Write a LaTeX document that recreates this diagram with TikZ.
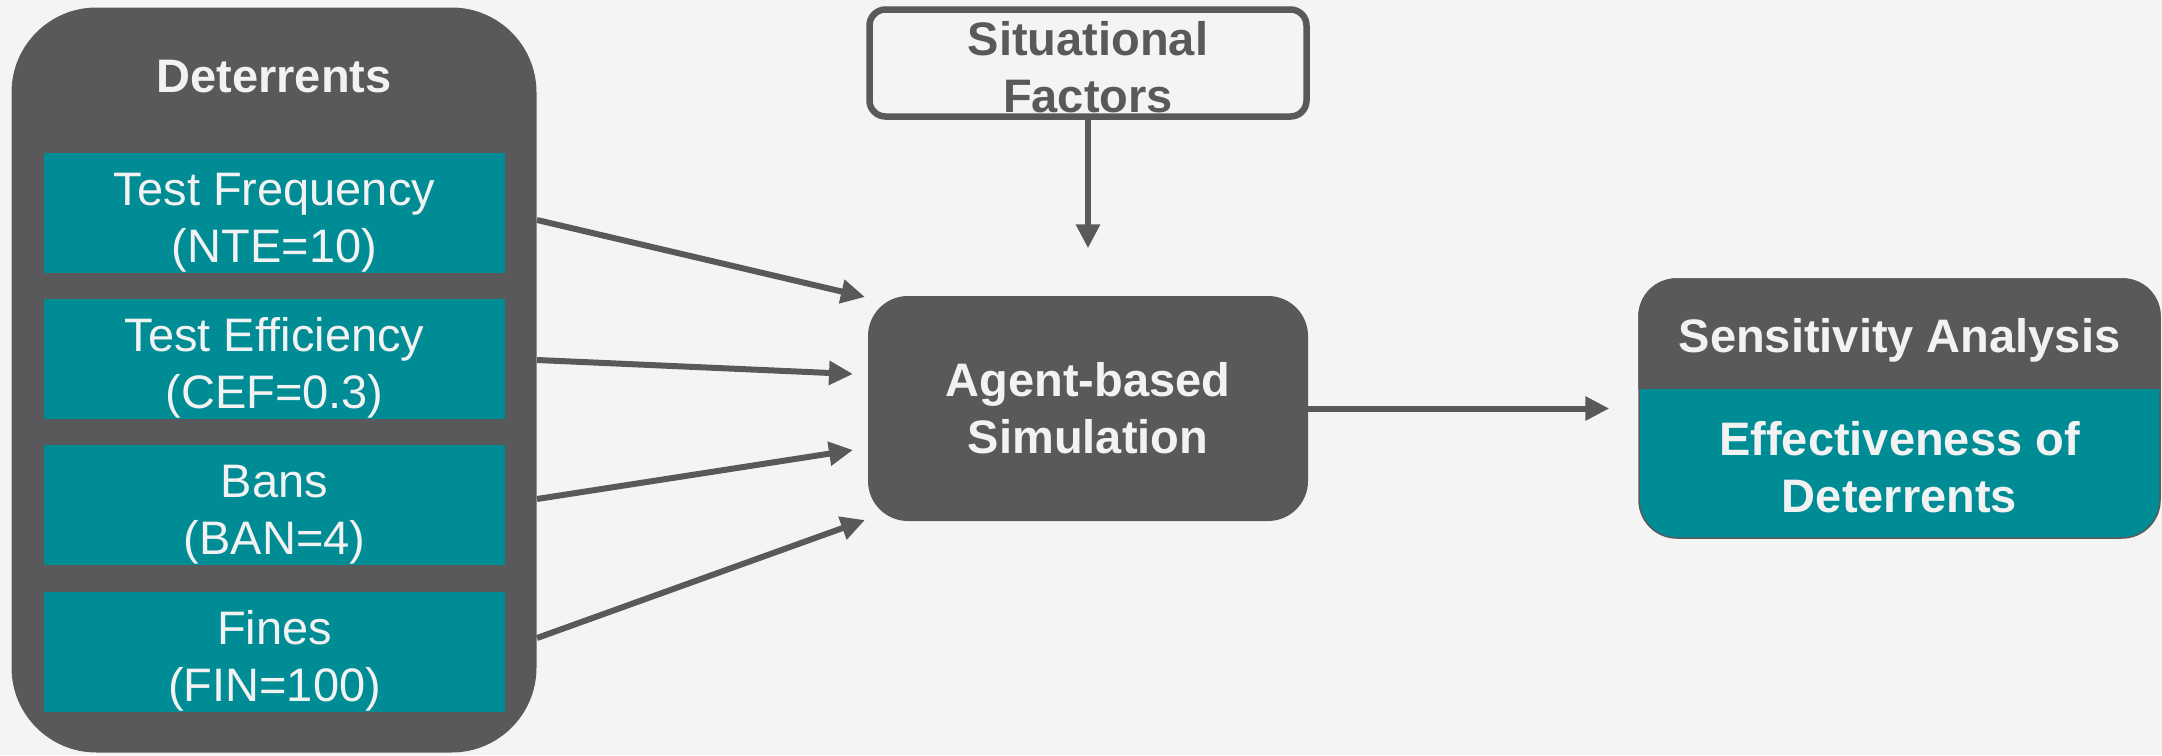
\documentclass[tikz,border=0pt]{standalone}
\usepackage{fontspec}
\setmainfont{Liberation Sans}
\usepackage{xcolor}
\usepackage{tikz}
\usetikzlibrary{arrows.meta, positioning, calc}
\definecolor{canvas}{RGB}{244,244,244}
\definecolor{slate}{RGB}{89,89,91}
\definecolor{deterrent}{RGB}{0,140,149}
\definecolor{label}{RGB}{242,242,242}

\begin{document}
\begin{tikzpicture}[x=1pt, y=-1pt, node distance=26pt,
    big/.style={font=\fontsize{47}{57}\selectfont},
    bigbold/.style={font=\fontsize{47}{57}\selectfont\bfseries},
    param/.style={big, fill=deterrent, text=label, minimum width=461pt, minimum height=120pt, inner sep=0pt, text height=109pt, text depth=10pt, align=center},
    flow/.style={draw=slate, line width=6pt, -{Triangle[length=24pt, width=23pt]}}]
    \fill[canvas] (0,0) rectangle (2162,755);
    \useasboundingbox (0,0) rectangle (2162,755);

    \node[fill=slate, rounded corners=85pt, minimum width=525pt, minimum height=745pt] (det) at (274,380) {};
    \node[bigbold, text=label] (dettitle) at (274,77) {Deterrents};
    \node[param] (nte) at (274.5,212.5) {Test Frequency\\(NTE=10)};
    \node[param, below=of nte] (cef) {Test Efficiency\\(CEF=0.3)};
    \node[param, below=of cef] (ban) {Bans\\(BAN=4)};
    \node[param, below=of ban] (fin) {Fines\\(FIN=100)};

    \node[draw=slate, line width=6.5pt, fill=canvas, text=slate, bigbold, rounded corners=16pt, minimum width=437pt, minimum height=107pt, inner sep=0pt, text height=98pt, text depth=0pt, align=center] (sit) at (1088,63) {Situational\\Factors};
    \node[fill=slate, text=label, bigbold, rounded corners=40pt, minimum width=440pt, minimum height=225pt, align=center] (sim) at (1088,408.5) {Agent-based\\Simulation};

    \node[fill=deterrent, draw=slate, line width=1.5pt, rounded corners=38pt, minimum width=521pt, minimum height=259pt] (sens) at (1899.5,408.5) {};
    \begin{scope}
        \clip (sens.north west) rectangle ($(sens.north east)+(0,110)$);
        \fill[slate, rounded corners=38pt] (sens.north west) rectangle (sens.south east);
    \end{scope}
    \node[bigbold, text=label] (senstitle) at ($(sens.north)+(0,62)$) {Sensitivity Analysis};
    \node[bigbold, text=label, align=center] (sensbody) at ($(sens.south)+(0,-72)$) {Effectiveness of\\Deterrents};

    \coordinate (d1) at (537,220);
    \coordinate (d2) at (537,360);
    \coordinate (d3) at (537,499);
    \coordinate (d4) at (537,638);
    \coordinate (t1) at (865,297);
    \coordinate (t2) at (853,374);
    \coordinate (t3) at (853,450);
    \coordinate (t4) at (865,520);
    \foreach \i in {1,...,4}
        \draw[flow] (d\i) -- (t\i);
    \draw[flow, shorten >=47.5pt] (sit.south) -- (sim.north);
    \draw[flow, shorten >=29pt] (sim.east) -- (sens.west);
\end{tikzpicture}
\end{document}
